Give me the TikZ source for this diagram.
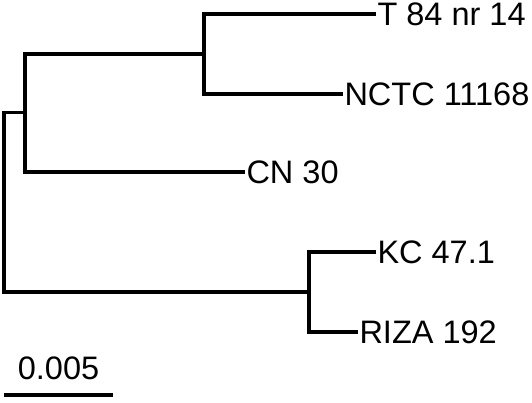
\documentclass[tikz,border=0pt]{standalone}
\usepackage{fontspec}
\setmainfont{Liberation Sans}
\definecolor{c000000}{RGB}{0,0,0}

\tikzset{
  branch/.style={draw=c000000,line join=miter,line cap=butt,line width=3.3pt},
  taxon/.style={anchor=west,inner sep=1.5pt,outer sep=0pt,
    font=\fontsize{32.5}{38}\selectfont}
}

\begin{document}
\begin{tikzpicture}[y=1pt, x=1pt,yscale=-1, inner sep=0pt, outer sep=0pt]
  \useasboundingbox (0,0) rectangle (532,402);
  % internal nodes
  \coordinate (root) at (4,202);
  \coordinate (n1) at (25,112.5);
  \coordinate (n2) at (204,54);
  \coordinate (n3) at (309,292);
  % taxa
  \node[taxon] (t84) at (376,14) {T 84 nr 14};
  \node[taxon] (nctc) at (343,94) {NCTC 11168};
  \node[taxon] (cn30) at (245,172) {CN 30};
  \node[taxon] (kc47) at (376,252) {KC 47.1};
  \node[taxon] (riza) at (358,332) {RIZA 192};
  % branches
  \path[branch] (t84.west) -| (n2) |- (nctc.west);
  \path[branch] (n2) -| (n1) |- (cn30.west);
  \path[branch] (kc47.west) -| (n3) |- (riza.west);
  \path[branch] (n1) -| (root) |- (n3);
  % scale bar
  \coordinate (bar0) at (4,395);
  \coordinate (bar1) at (113,395);
  \path[branch] (bar0) -- (bar1);
  \node[font=\fontsize{32.5}{38}\selectfont] (barlabel) at (58.5,368) {0.005};
\end{tikzpicture}
\end{document}
